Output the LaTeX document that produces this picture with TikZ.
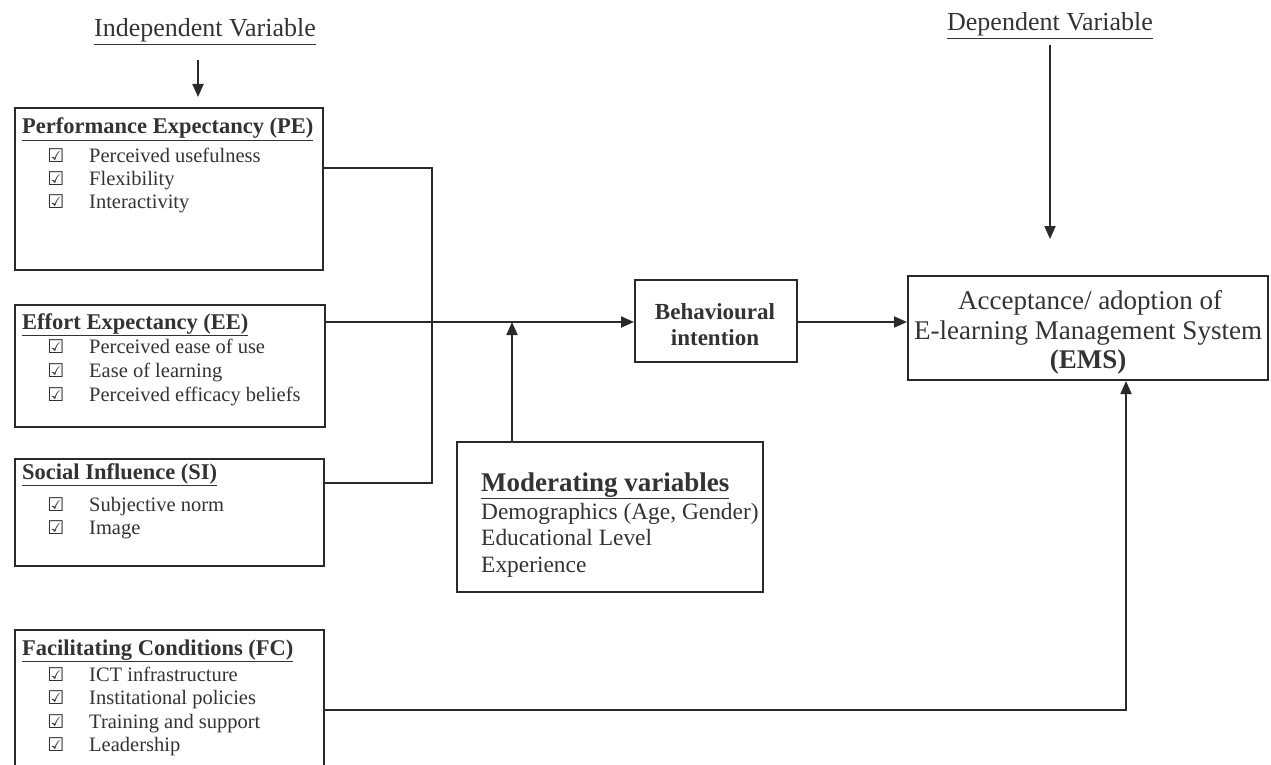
\documentclass[tikz,border=0pt]{standalone}
\usepackage{fontspec}
\setmainfont{Liberation Serif}
\newfontfamily\symfont{DejaVu Sans}
\usetikzlibrary{arrows.meta}
\definecolor{ink}{HTML}{2A2A2A}
\definecolor{txt}{HTML}{333333}
\begin{document}
\begin{tikzpicture}[x=1pt,y=-1pt,
  box/.style={draw=ink,line width=2pt,inner sep=0pt,anchor=north west},
  conn/.style={draw=ink,line width=1.8pt},
  arr/.style={conn,-{Triangle[length=13pt,width=11pt]}},
  title/.style={anchor=base west,font=\fontsize{22.5}{26}\selectfont\bfseries,text=txt,inner sep=0pt},
  item/.style={anchor=base west,font=\fontsize{20.5}{24}\selectfont,text=txt,inner sep=0pt},
  chk/.style={anchor=base,font=\symfont\fontsize{19}{22}\selectfont,text=txt,inner sep=0pt},
  head/.style={anchor=base,font=\fontsize{26}{30}\selectfont,text=txt,inner sep=0pt},
  big/.style={anchor=base,font=\fontsize{27}{30}\selectfont,text=txt,inner sep=0pt},
]
\useasboundingbox (0,0) rectangle (1271,765);
\fill[white] (0,0) rectangle (1271,765);
\begin{scope}
\clip (0,0) rectangle (1271,765);

% headings
\node[head] (iv) at (205,37) {\underline{Independent Variable}};
\node[head] (dv) at (1050,31) {\underline{Dependent Variable}};

% boxes
\node[box,minimum width=308pt,minimum height=162pt] (pe) at (14,107) {};
\node[box,minimum width=310pt,minimum height=122pt] (ee) at (14,304) {};
\node[box,minimum width=309pt,minimum height=107pt] (si) at (14,458) {};
\node[box,minimum width=309pt,minimum height=150pt] (fc) at (14,629) {};
\node[box,minimum width=162pt,minimum height=82pt] (bi) at (634,279) {};
\node[box,minimum width=360pt,minimum height=104pt] (ems) at (907,275) {};
\node[box,minimum width=306pt,minimum height=150pt] (mod) at (456,441) {};

% PE
\node[title] (pe-t) at (22,134) {\underline{Performance Expectancy (PE)}};
\foreach \n/\y/\t in {1/162/Perceived usefulness,2/185/Flexibility,3/208/Interactivity}{
  \node[chk] (pe-c\n) at (56,\y) {☑};
  \node[item] (pe-i\n) at (89,\y) {\t};
}
% EE
\node[title] (ee-t) at (22,329) {\underline{Effort Expectancy (EE)}};
\foreach \n/\y/\t in {1/353/Perceived ease of use,2/377/Ease of learning,3/401/Perceived efficacy beliefs}{
  \node[chk] (ee-c\n) at (56,\y) {☑};
  \node[item] (ee-i\n) at (89,\y) {\t};
}
% SI
\node[title] (si-t) at (22,479) {\underline{Social Influence (SI)}};
\foreach \n/\y/\t in {1/511/Subjective norm,2/534/Image}{
  \node[chk] (si-c\n) at (56,\y) {☑};
  \node[item] (si-i\n) at (89,\y) {\t};
}
% FC
\node[title] (fc-t) at (22,655) {\underline{Facilitating Conditions (FC)}};
\foreach \n/\y/\t in {1/681/ICT infrastructure,2/704/Institational policies,3/728/Training and support,4/751/Leadership}{
  \node[chk] (fc-c\n) at (56,\y) {☑};
  \node[item] (fc-i\n) at (89,\y) {\t};
}

% Behavioural intention
\node[anchor=base,font=\fontsize{23}{26}\selectfont\bfseries,text=txt,inner sep=0pt] (bi-1) at (715,319) {Behavioural};
\node[anchor=base,font=\fontsize{23}{26}\selectfont\bfseries,text=txt,inner sep=0pt] (bi-2) at (715,345) {intention};

% EMS
\node[big] (ems-1) at (1090,309) {Acceptance/ adoption of};
\node[big] (ems-2) at (1088,339) {E-learning Management System};
\node[big,font=\fontsize{27}{30}\selectfont\bfseries] (ems-3) at (1088,368) {(EMS)};

% Moderating
\node[anchor=base west,font=\fontsize{27}{30}\selectfont\bfseries,text=txt,inner sep=0pt] (mod-t) at (481,491) {\underline{Moderating variables}};
\node[anchor=base west,font=\fontsize{23.4}{26}\selectfont,text=txt,inner sep=0pt] (mod-1) at (481,519) {Demographics (Age, Gender)};
\node[anchor=base west,font=\fontsize{23.4}{26}\selectfont,text=txt,inner sep=0pt] (mod-2) at (481,545) {Educational Level};
\node[anchor=base west,font=\fontsize{23.4}{26}\selectfont,text=txt,inner sep=0pt] (mod-3) at (481,572) {Experience};

% connectors
\coordinate (ivs) at (198,60);
\coordinate (ivt) at (198,97);
\draw[arr] (ivs) -- (ivt);
\coordinate (dvs) at (1050,45);
\coordinate (dvt) at (1050,239);
\draw[arr] (dvs) -- (dvt);

\coordinate (jtop) at (432,168);
\coordinate (jbot) at (432,483);
\draw[conn] (jtop -| pe.east) -- (jtop) -- (jbot) -- (jbot -| si.east);

\coordinate (mid) at (512,322);
\draw[arr] (mid -| ee.east) -- (mid -| bi.west);
\draw[arr] (mid |- mod.north) -- (mid);
\draw[arr] (mid -| bi.east) -- (mid -| ems.west);

\coordinate (fcturn) at (1126,710);
\draw[arr] (fcturn -| fc.east) -- (fcturn) -- (fcturn |- ems.south);
\end{scope}
\end{tikzpicture}
\end{document}
